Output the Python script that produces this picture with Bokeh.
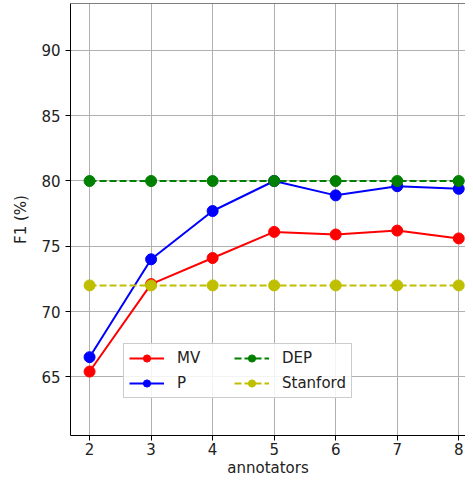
from bokeh.plotting import figure
from bokeh.models import Range1d, Legend, LegendItem, FixedTicker, Span
from bokeh.embed import file_html
from bokeh.resources import INLINE

annotators = [2, 3, 4, 5, 6, 7, 8]
mv = [65.4, 72.1, 74.1, 76.1, 75.9, 76.2, 75.6]
p_vals = [66.5, 74.0, 77.7, 80.0, 78.9, 79.6, 79.4]
dep = [80, 80, 80, 80, 80, 80, 80]
stanford = [72, 72, 72, 72, 72, 72, 72]
y_ticks = [65, 70, 75, 80, 85, 90]

FONT = "DejaVu Sans"
Y0, Y1 = 60.5, 93.6

p = figure(width=465, height=480, output_backend="svg", toolbar_location=None,
           x_range=Range1d(1.69, 8.11), y_range=Range1d(Y0, Y1),
           min_border_left=70, min_border_right=0, min_border_top=3, min_border_bottom=45,
           x_axis_label="annotators", y_axis_label="F1 (%)")
p.outline_line_color = None
p.background_fill_color = "white"
p.border_fill_color = "white"

for ax in (p.xaxis[0], p.yaxis[0]):
    ax.axis_line_color = "black"
    ax.axis_line_width = 1
    ax.major_tick_out = 5
    ax.major_tick_in = 0
    ax.minor_tick_out = 0
    ax.minor_tick_in = 0
    ax.major_tick_line_color = "black"
    ax.major_label_text_font = FONT
    ax.major_label_text_font_size = "15px"
    ax.major_label_text_color = "#222222"
    ax.axis_label_text_font = FONT
    ax.axis_label_text_font_size = "15px"
    ax.axis_label_text_font_style = "normal"
    ax.axis_label_text_color = "#222222"
p.xaxis.ticker = FixedTicker(ticks=annotators)
p.yaxis.ticker = FixedTicker(ticks=y_ticks)
p.xaxis.axis_label_standoff = 1
p.yaxis.axis_label_standoff = 8
p.xaxis.major_label_standoff = 2
p.yaxis.major_label_standoff = 5

# top spine
p.add_layout(Span(location=Y1, dimension="width", line_color="black", line_width=1))

p.xgrid.grid_line_color = "#b0b0b0"
p.ygrid.grid_line_color = "#b0b0b0"
p.xgrid.grid_line_width = 1
p.ygrid.grid_line_width = 1

series = [
    ("MV", mv, "#ff0000", "solid"),
    ("P", p_vals, "#0000ff", "solid"),
    ("DEP", dep, "#008000", "7 3"),
    ("Stanford", stanford, "#bfbf00", "7 3"),
]
items = []
for name, ys, col, dash in series:
    l = p.line(annotators, ys, line_color=col, line_width=2, line_dash=dash)
    s = p.scatter(annotators, ys, size=11, fill_color=col, line_color=col, marker="circle")
    items.append(LegendItem(label=name, renderers=[l, s]))

legend = Legend(items=items, location=(53, 37), orientation="vertical", nrows=2,
                label_text_font=FONT, label_text_font_size="15px",
                border_line_color="#cccccc", border_line_alpha=1,
                background_fill_alpha=0.85, glyph_width=35, glyph_height=18,
                spacing=7, padding=5, margin=0, label_standoff=13, label_width=50)
legend.label_text_color = "#222222"
p.add_layout(legend, "center")

open("out.html", "w").write(file_html(p, INLINE))
